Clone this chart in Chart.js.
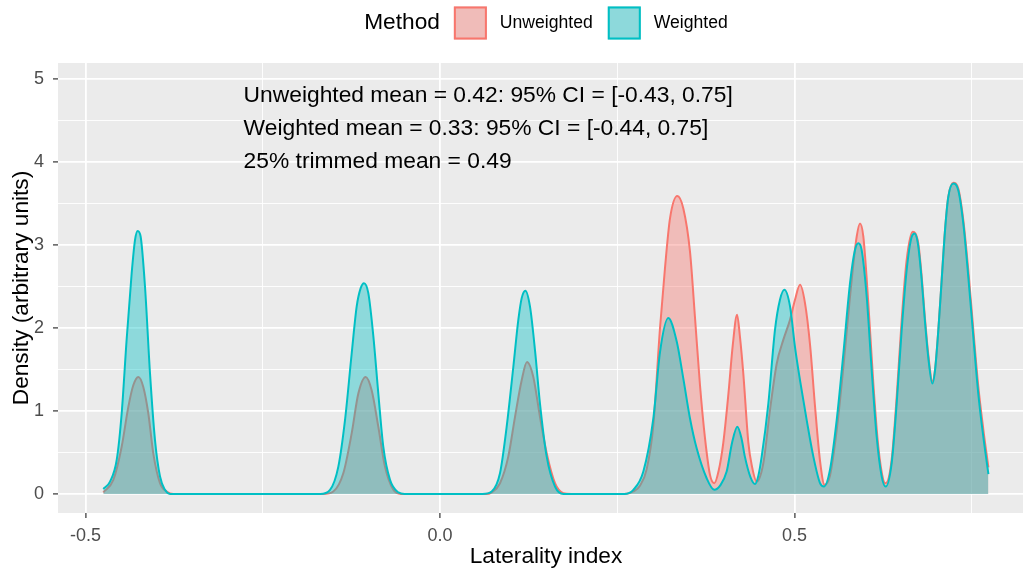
<!DOCTYPE html>
<html>
<head>
<meta charset="utf-8">
<title>Laterality index density</title>
<script src="https://cdn.jsdelivr.net/npm/chart.js@4.4.1/dist/chart.umd.min.js"></script>
<style>
    html, body { margin: 0; padding: 0; background: #ffffff; overflow: hidden; }
    #wrap { width: 1034px; height: 568px; }
</style>
</head>
<body>
<div id="wrap"><canvas id="densityChart" width="1034" height="568"></canvas></div>
<script>
// ---------- data ----------

const seriesNames = ["Unweighted", "Weighted"];
const legendTitle = "Method";

// density of the unweighted estimate
const unweightedX = [
    -0.4749, -0.4608, -0.449, -0.4396, -0.4326, -0.4255, -0.4185, -0.4114, -0.4044, -0.3949, -0.3855, -0.376,
    -0.165, -0.1505, -0.1364, -0.1246, -0.1152, -0.1048, -0.0964, -0.087, -0.0776, -0.0658, -0.055,
    0.065, 0.0729, 0.0846, 0.0963, 0.1058, 0.1152, 0.1227, 0.1316, 0.141, 0.1505, 0.1622, 0.1739, 0.185,
    0.26, 0.2727, 0.282, 0.2915, 0.3009, 0.3103, 0.3173, 0.3244, 0.3347, 0.3432, 0.3526, 0.3597, 0.3667,
    0.3738, 0.3808, 0.3869, 0.393, 0.3996, 0.4067, 0.413, 0.419, 0.423, 0.4278, 0.4349, 0.4396, 0.4467,
    0.456, 0.4654, 0.4749, 0.4843, 0.4937, 0.5007, 0.5078, 0.5148, 0.5219, 0.529, 0.536, 0.5425, 0.55,
    0.5595, 0.5689, 0.5783, 0.5877, 0.5924, 0.5971, 0.6041, 0.6112, 0.6182, 0.6252, 0.6286, 0.637, 0.6441,
    0.6512, 0.6582, 0.6667, 0.6746, 0.679, 0.684, 0.689, 0.6944, 0.6982, 0.7029, 0.7076, 0.7123, 0.7169,
    0.724, 0.731, 0.7381, 0.7451, 0.7522, 0.7592, 0.7663, 0.7735
];
const unweightedY = [
    0.02, 0.17, 0.57, 1.05, 1.31, 1.41, 1.29, 0.97, 0.49, 0.13, 0.03, 0,
    0, 0.03, 0.25, 0.73, 1.21, 1.41, 1.25, 0.81, 0.33, 0.05, 0,
    0, 0.02, 0.13, 0.45, 0.93, 1.37, 1.59, 1.41, 0.93, 0.49, 0.13, 0.01, 0,
    0, 0.03, 0.10, 0.30, 0.83, 2.00, 2.72, 3.32, 3.59, 3.44, 2.92, 2.12, 1.31,
    0.67, 0.23, 0.13, 0.28, 0.62, 1.20, 1.80, 2.16, 1.90, 1.45, 0.62, 0.35, 0.15,
    0.37, 1.01, 1.57, 1.86, 2.10, 2.34, 2.52, 2.30, 1.80, 1.05, 0.40, 0.11, 0.22,
    0.77, 1.53, 2.38, 3.10, 3.26, 3.10, 2.30, 1.33, 0.57, 0.17, 0.13, 0.41, 1.17,
    2.10, 2.82, 3.16, 3.02, 2.66, 2.12, 1.66, 1.36, 1.50, 1.98, 2.58, 3.18, 3.58,
    3.75, 3.68, 3.30, 2.70, 1.98, 1.30, 0.78, 0.32
];

// density of the weighted estimate
const weightedX = [
    -0.4749, -0.4654, -0.456, -0.449, -0.442, -0.4349, -0.4302, -0.4264, -0.4222, -0.4161, -0.409, -0.402,
    -0.3949, -0.3879, -0.3808,
    -0.169, -0.1551, -0.1434, -0.134, -0.1246, -0.1175, -0.1119, -0.1072, -0.1011, -0.094, -0.087, -0.08,
    -0.0705, -0.0588, -0.05,
    0.06, 0.0729, 0.0846, 0.094, 0.1034, 0.1105, 0.1152, 0.1204, 0.1269, 0.134, 0.141, 0.1505, 0.1622, 0.1739,
    0.26, 0.2727, 0.2868, 0.3009, 0.3103, 0.322, 0.3338, 0.3432, 0.3526, 0.362, 0.3761, 0.3869, 0.395,
    0.4043, 0.412, 0.4194, 0.4255, 0.43, 0.438, 0.4443, 0.449, 0.4537, 0.4631, 0.4725, 0.4795, 0.4857,
    0.4937, 0.5007, 0.5078, 0.5172, 0.5266, 0.536, 0.5416, 0.55, 0.5595, 0.5689, 0.5783, 0.5853, 0.59,
    0.5947, 0.6018, 0.6089, 0.6159, 0.623, 0.6286, 0.637, 0.6441, 0.6512, 0.6582, 0.6653, 0.6695, 0.674,
    0.679, 0.684, 0.689, 0.6944, 0.6982, 0.7029, 0.7076, 0.7123, 0.7169, 0.724, 0.731, 0.7381, 0.7451,
    0.7522, 0.7592, 0.7663, 0.7735
];
const weightedY = [
    0.06, 0.15, 0.41, 0.97, 1.86, 2.66, 3.06, 3.17, 3.10, 2.50, 1.45, 0.65,
    0.21, 0.05, 0,
    0, 0.05, 0.33, 0.89, 1.69, 2.26, 2.48, 2.54, 2.42, 1.90, 1.21, 0.57,
    0.17, 0.02, 0,
    0, 0.03, 0.25, 0.81, 1.53, 2.10, 2.36, 2.45, 2.26, 1.73, 1.09, 0.45, 0.09, 0,
    0, 0.05, 0.27, 0.91, 1.71, 2.12, 1.84, 1.39, 0.91, 0.55, 0.19, 0.05, 0.10,
    0.27, 0.62, 0.81, 0.66, 0.45, 0.20, 0.12, 0.22, 0.45, 1.09, 1.98, 2.34, 2.46,
    2.26, 1.77, 1.37, 0.89, 0.45, 0.13, 0.09, 0.29, 0.89, 1.69, 2.54, 2.94, 3.02,
    2.94, 2.38, 1.49, 0.69, 0.21, 0.09, 0.37, 1.09, 1.98, 2.70, 3.10, 3.14, 3.02,
    2.62, 2.08, 1.62, 1.33, 1.49, 1.98, 2.58, 3.18, 3.58, 3.74, 3.66, 3.26, 2.62,
    1.90, 1.21, 0.69, 0.24
];

// axis ticks (major ones get a label, minor ones only a grid line)
const xMajorTicks = [-0.5, 0, 0.5];
const xTickLabels = ["-0.5", "0.0", "0.5"];
const xMinorTicks = [-0.25, 0.25, 0.75];
const yMajorTicks = [0, 1, 2, 3, 4, 5];
const yTickLabels = ["0", "1", "2", "3", "4", "5"];
const yMinorTicks = [0.5, 1.5, 2.5, 3.5, 4.5];

// summary text placed inside the panel (data coordinates)
const noteLines = [
    "Unweighted mean = 0.42: 95% CI = [-0.43, 0.75]",
    "Weighted mean = 0.33: 95% CI = [-0.44, 0.75]",
    "25% trimmed mean = 0.49"
];
const noteX = -0.277;
const noteY = [4.8, 4.4, 4.0];

// ---------- look ----------

const FONT = '"Liberation Sans", Arial, Helvetica, sans-serif';
const lineColors = ["#F8766D", "#00BFC4"];
const fillColors = ["rgba(248, 118, 109, 0.4)", "rgba(0, 191, 196, 0.4)"];
const PANEL_BG = "#EBEBEB";
const TITLE_SIZE = 22.7;
const TICK_SIZE = 18;

function near(a, b) { return Math.abs(a - b) < 1e-9; }
function isMajor(list, v) { return list.some((m) => near(m, v)); }
function labelFor(list, labels, v) {
    const i = list.findIndex((m) => near(m, v));
    return i >= 0 ? labels[i] : "";
}

function toPoints(xs, ys) {
    return xs.map((x, i) => ({ x, y: ys[i] }));
}

// grey panel behind the grid
const panelBackground = {
    id: "panelBackground",
    beforeDraw(chart) {
        const { ctx, chartArea: a } = chart;
        ctx.save();
        ctx.fillStyle = PANEL_BG;
        ctx.fillRect(a.left, a.top, a.right - a.left, a.bottom - a.top);
        ctx.restore();
    },
};

// mean / CI text lines
const summaryText = {
    id: "summaryText",
    afterDatasetsDraw(chart) {
        const { ctx, scales } = chart;
        ctx.save();
        ctx.font = "22.8px " + FONT;
        ctx.fillStyle = "#000000";
        ctx.textAlign = "left";
        ctx.textBaseline = "middle";
        noteLines.forEach((t, i) => {
            ctx.fillText(t, scales.x.getPixelForValue(noteX), scales.y.getPixelForValue(noteY[i]));
        });
        ctx.restore();
    },
};

// legend row: "Method" + two filled keys
const methodLegend = {
    id: "methodLegend",
    afterDraw(chart) {
        const { ctx, chartArea: a } = chart;
        const cx = (a.left + a.right) / 2;
        const cy = 23;
        const key = 33, gapTitle = 14, gapKey = 13, gapItem = 15;

        ctx.save();
        ctx.textBaseline = "middle";
        ctx.textAlign = "left";
        ctx.font = TITLE_SIZE + "px " + FONT;
        const titleW = ctx.measureText(legendTitle).width;
        ctx.font = "17.6px " + FONT;
        const labelW = seriesNames.map((n) => ctx.measureText(n).width);

        let total = titleW + gapTitle;
        labelW.forEach((w, i) => {
            total += key + gapKey + w + (i < labelW.length - 1 ? gapItem : 0);
        });

        let x = cx - total / 2;
        ctx.fillStyle = "#000000";
        ctx.font = TITLE_SIZE + "px " + FONT;
        ctx.fillText(legendTitle, x, cy);
        x += titleW + gapTitle;

        ctx.font = "17.6px " + FONT;
        seriesNames.forEach((name, i) => {
            const top = cy - key / 2;
            ctx.fillStyle = PANEL_BG;
            ctx.fillRect(x, top, key, key);
            ctx.fillStyle = fillColors[i];
            ctx.fillRect(x, top, key, key);
            ctx.strokeStyle = lineColors[i];
            ctx.lineWidth = 2;
            ctx.strokeRect(x + 1, top + 1, key - 2, key - 2);
            x += key + gapKey;
            ctx.fillStyle = "#000000";
            ctx.fillText(name, x, cy);
            x += labelW[i] + gapItem;
        });
        ctx.restore();
    },
};

// ---------- chart ----------

Chart.defaults.font.family = FONT;

const ctx = document.getElementById("densityChart").getContext("2d");

new Chart(ctx, {
    type: "line",
    data: {
        datasets: [
            {
                label: seriesNames[0],
                data: toPoints(unweightedX, unweightedY),
                borderColor: lineColors[0],
                backgroundColor: fillColors[0],
                borderWidth: 2,
                fill: "origin",
                pointRadius: 0,
                cubicInterpolationMode: "monotone",
                order: 2,
            },
            {
                label: seriesNames[1],
                data: toPoints(weightedX, weightedY),
                borderColor: lineColors[1],
                backgroundColor: fillColors[1],
                borderWidth: 2,
                fill: "origin",
                pointRadius: 0,
                cubicInterpolationMode: "monotone",
                order: 1,
            },
        ],
    },
    options: {
        responsive: false,
        animation: false,
        devicePixelRatio: 1,
        layout: { padding: { top: 63, left: 0, right: 0, bottom: 0 } },
        plugins: {
            legend: { display: false },
            tooltip: { enabled: false },
        },
        scales: {
            x: {
                type: "linear",
                min: -0.5388,
                max: 0.8378,
                afterBuildTicks: (s) => {
                    s.ticks = xMajorTicks.concat(xMinorTicks)
                        .sort((p, q) => p - q)
                        .map((v) => ({ value: v }));
                },
                afterFit: (s) => { s.height = 55; },
                ticks: {
                    autoSkip: false,
                    maxRotation: 0,
                    padding: 7,
                    color: "#4D4D4D",
                    font: { size: TICK_SIZE },
                    callback: (v) => labelFor(xMajorTicks, xTickLabels, v),
                },
                grid: {
                    color: "#FFFFFF",
                    lineWidth: (c) => (c.tick && isMajor(xMajorTicks, c.tick.value) ? 1.8 : 0.9),
                    tickColor: (c) => (c.tick && isMajor(xMajorTicks, c.tick.value) ? "#333333" : "rgba(0,0,0,0)"),
                    tickLength: 5,
                    tickWidth: 1.2,
                },
                border: { display: false },
                title: {
                    display: true,
                    text: "Laterality index",
                    color: "#000000",
                    font: { size: TITLE_SIZE, lineHeight: 1 },
                    padding: { top: 0, bottom: 0 },
                },
            },
            y: {
                type: "linear",
                min: -0.229,
                max: 5.193,
                afterBuildTicks: (s) => {
                    s.ticks = yMajorTicks.concat(yMinorTicks)
                        .sort((p, q) => p - q)
                        .map((v) => ({ value: v }));
                },
                afterFit: (s) => { s.width = 58; },
                ticks: {
                    autoSkip: false,
                    padding: 9,
                    color: "#4D4D4D",
                    font: { size: TICK_SIZE },
                    callback: (v) => labelFor(yMajorTicks, yTickLabels, v),
                },
                grid: {
                    color: "#FFFFFF",
                    lineWidth: (c) => (c.tick && isMajor(yMajorTicks, c.tick.value) ? 1.8 : 0.9),
                    tickColor: (c) => (c.tick && isMajor(yMajorTicks, c.tick.value) ? "#333333" : "rgba(0,0,0,0)"),
                    tickLength: 5,
                    tickWidth: 1.2,
                },
                border: { display: false },
                title: {
                    display: true,
                    text: "Density (arbitrary units)",
                    color: "#000000",
                    font: { size: TITLE_SIZE },
                    padding: { top: 8, bottom: 0 },
                },
            },
        },
    },
    plugins: [panelBackground, summaryText, methodLegend],
});
</script>
</body>
</html>
